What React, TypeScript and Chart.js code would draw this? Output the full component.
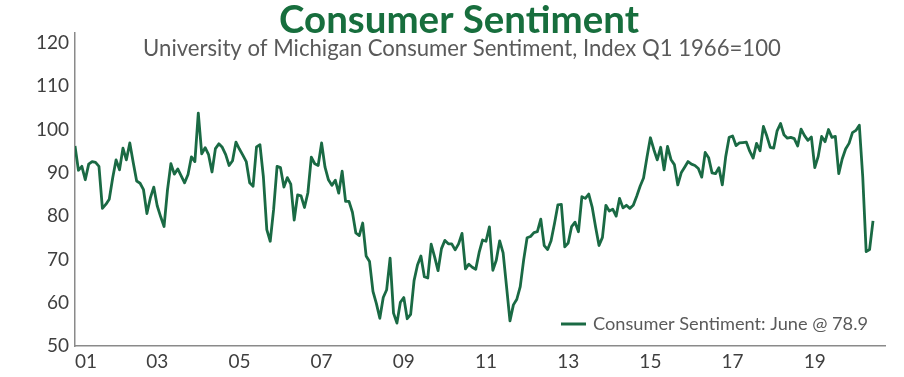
import React, { useEffect, useRef } from 'react';
import { Chart, registerables } from 'chart.js';

Chart.register(...registerables);

const TITLE = 'Consumer Sentiment';
const SUBTITLE = 'University of Michigan Consumer Sentiment, Index Q1 1966=100';
const SERIES_LABEL = 'Consumer Sentiment: June @ 78.9';

const START_YEAR = 2001;
// Monthly index values, Jan 2001 .. Jun 2020
const sentiment: number[] = [
  // 2001
  96.2, 90.6, 91.5, 88.4, 92.0, 92.6, 92.4, 91.5, 81.8, 82.7, 83.9, 88.8,
  // 2002
  93.0, 90.7, 95.7, 93.0, 96.9, 92.4, 88.1, 87.6, 86.1, 80.6, 84.2, 86.7,
  // 2003
  82.4, 79.9, 77.6, 86.0, 92.1, 89.7, 90.9, 89.3, 87.7, 89.6, 93.7, 92.6,
  // 2004
  103.8, 94.4, 95.8, 94.2, 90.2, 95.6, 96.7, 95.9, 94.2, 91.7, 92.8, 97.1,
  // 2005
  95.5, 94.1, 92.6, 87.7, 86.9, 96.0, 96.5, 89.1, 76.9, 74.2, 81.6, 91.5,
  // 2006
  91.2, 86.7, 88.9, 87.4, 79.1, 84.9, 84.7, 82.0, 85.4, 93.6, 92.1, 91.7,
  // 2007
  96.9, 91.3, 88.4, 87.1, 88.3, 85.3, 90.4, 83.4, 83.4, 80.9, 76.1, 75.5,
  // 2008
  78.4, 70.8, 69.5, 62.6, 59.8, 56.4, 61.2, 63.0, 70.3, 57.6, 55.3, 60.1,
  // 2009
  61.2, 56.3, 57.3, 65.1, 68.7, 70.8, 66.0, 65.7, 73.5, 70.6, 67.4, 72.5,
  // 2010
  74.4, 73.6, 73.6, 72.2, 73.6, 76.0, 67.8, 68.9, 68.2, 67.7, 71.6, 74.5,
  // 2011
  74.2, 77.5, 67.5, 69.8, 74.3, 71.5, 63.7, 55.8, 59.5, 60.8, 63.7, 69.9,
  // 2012
  75.0, 75.3, 76.2, 76.4, 79.3, 73.2, 72.3, 74.3, 78.3, 82.6, 82.7, 72.9,
  // 2013
  73.8, 77.6, 78.6, 76.4, 84.5, 84.1, 85.1, 82.1, 77.5, 73.2, 75.1, 82.5,
  // 2014
  81.2, 81.6, 80.0, 84.1, 81.9, 82.5, 81.8, 82.5, 84.6, 86.9, 88.8, 93.6,
  // 2015
  98.1, 95.4, 93.0, 95.9, 90.7, 96.1, 93.1, 91.9, 87.2, 90.0, 91.3, 92.6,
  // 2016
  92.0, 91.7, 91.0, 89.0, 94.7, 93.5, 90.0, 89.8, 91.2, 87.2, 93.8, 98.2,
  // 2017
  98.5, 96.3, 96.9, 97.0, 97.1, 95.0, 93.4, 96.8, 95.1, 100.7, 98.5, 95.9,
  // 2018
  95.7, 99.7, 101.4, 98.8, 98.0, 98.2, 97.9, 96.2, 100.1, 98.6, 97.5, 98.3,
  // 2019
  91.2, 93.8, 98.4, 97.2, 100.0, 98.2, 98.4, 89.8, 93.2, 95.5, 96.8, 99.3,
  // 2020
  99.8, 101.0, 89.1, 71.8, 72.3, 78.9,
];

const yTickValues = [50, 60, 70, 80, 90, 100, 110, 120];
const xTickYears = [2001, 2003, 2005, 2007, 2009, 2011, 2013, 2015, 2017, 2019];
const xTickLabels = xTickYears.map((y) => String(y % 100).padStart(2, '0'));

const Y_MIN = 50;
const Y_MAX = 122.3;
const X_MAX_MONTHS = 236.5;

const TITLE_COLOR = '#176e3d';
const LINE_COLOR = '#1a6a44';
const TEXT_GRAY = '#5a5a5a';
const TICK_COLOR = '#3f3f3f';
const AXIS_COLOR = '#8a8a8a';
const FONT = 'Lato, "Open Sans", sans-serif';

function fitFont(ctx: CanvasRenderingContext2D, text: string, weight: string, target: number) {
  ctx.font = `${weight} 20px ${FONT}`;
  const w = ctx.measureText(text).width;
  const size = (20 * target) / w;
  ctx.font = `${weight} ${size.toFixed(2)}px ${FONT}`;
}

const textPlugin = {
  id: 'headerAndLegend',
  afterDraw(chart: any) {
    const ctx = chart.ctx as CanvasRenderingContext2D;
    ctx.save();
    ctx.textBaseline = 'middle';
    ctx.textAlign = 'center';
    ctx.fillStyle = TITLE_COLOR;
    fitFont(ctx, TITLE, 'bold', 360);
    ctx.fillText(TITLE, 459, 21);
    ctx.fillStyle = TEXT_GRAY;
    fitFont(ctx, SUBTITLE, 'normal', 638);
    ctx.fillText(SUBTITLE, 462, 49);

    // legend inside plot, lower right
    const ds = chart.data.datasets[0];
    ctx.strokeStyle = ds.borderColor;
    ctx.lineWidth = 3;
    ctx.beginPath();
    ctx.moveTo(561, 324);
    ctx.lineTo(586, 324);
    ctx.stroke();
    ctx.textAlign = 'left';
    ctx.fillStyle = TEXT_GRAY;
    fitFont(ctx, ds.label, 'normal', 275);
    ctx.fillText(ds.label, 593, 324);
    ctx.restore();
  },
};

export default function App() {
  const ref = useRef<HTMLCanvasElement | null>(null);

  useEffect(() => {
    document.body.style.margin = '0';
    const canvas = ref.current;
    if (!canvas) return;
    const points = sentiment.map((v, i) => ({ x: i, y: v }));
    const xTickMonths = xTickYears.map((y) => (y - START_YEAR) * 12);
    const labelFor: Record<number, string> = {};
    xTickMonths.forEach((m, k) => (labelFor[m] = xTickLabels[k]));

    const chart = new Chart(canvas, {
      type: 'line',
      data: {
        datasets: [
          {
            label: SERIES_LABEL,
            data: points,
            borderColor: LINE_COLOR,
            borderWidth: 2.8,
            pointRadius: 0,
            tension: 0,
            borderJoinStyle: 'round',
            fill: false,
          },
        ],
      },
      options: {
        animation: false,
        responsive: false,
        devicePixelRatio: 1,
        layout: { padding: { left: 0, right: 19, top: 33, bottom: 0 } },
        plugins: {
          legend: { display: false },
          title: { display: false },
          tooltip: { enabled: false },
        },
        scales: {
          x: {
            type: 'linear',
            min: 0,
            max: X_MAX_MONTHS,
            grid: { display: false, drawTicks: false },
            border: { display: true, color: AXIS_COLOR, width: 1.5 },
            afterBuildTicks: (axis: any) => {
              axis.ticks = [...xTickMonths.map((m) => ({ value: m })), { value: X_MAX_MONTHS }];
            },
            afterFit: (scale: any) => {
              scale.height = 31;
            },
            ticks: {
              autoSkip: false,
              maxRotation: 0,
              align: 'inner',
              padding: 4,
              color: TICK_COLOR,
              font: { family: FONT, size: 19 },
              callback: (value: any) => labelFor[value as number] ?? '',
            },
          },
          y: {
            min: Y_MIN,
            max: Y_MAX,
            grid: { display: false, drawTicks: false },
            border: { display: true, color: AXIS_COLOR, width: 1.5 },
            afterBuildTicks: (axis: any) => {
              axis.ticks = yTickValues.map((v) => ({ value: v }));
            },
            afterFit: (scale: any) => {
              scale.width = 75;
            },
            ticks: {
              padding: 6,
              color: TICK_COLOR,
              font: { family: FONT, size: 19 },
            },
          },
        },
      },
      plugins: [textPlugin],
    });
    return () => chart.destroy();
  }, []);

  return <canvas ref={ref} width={904} height={377} style={{ display: 'block' }} />;
}
